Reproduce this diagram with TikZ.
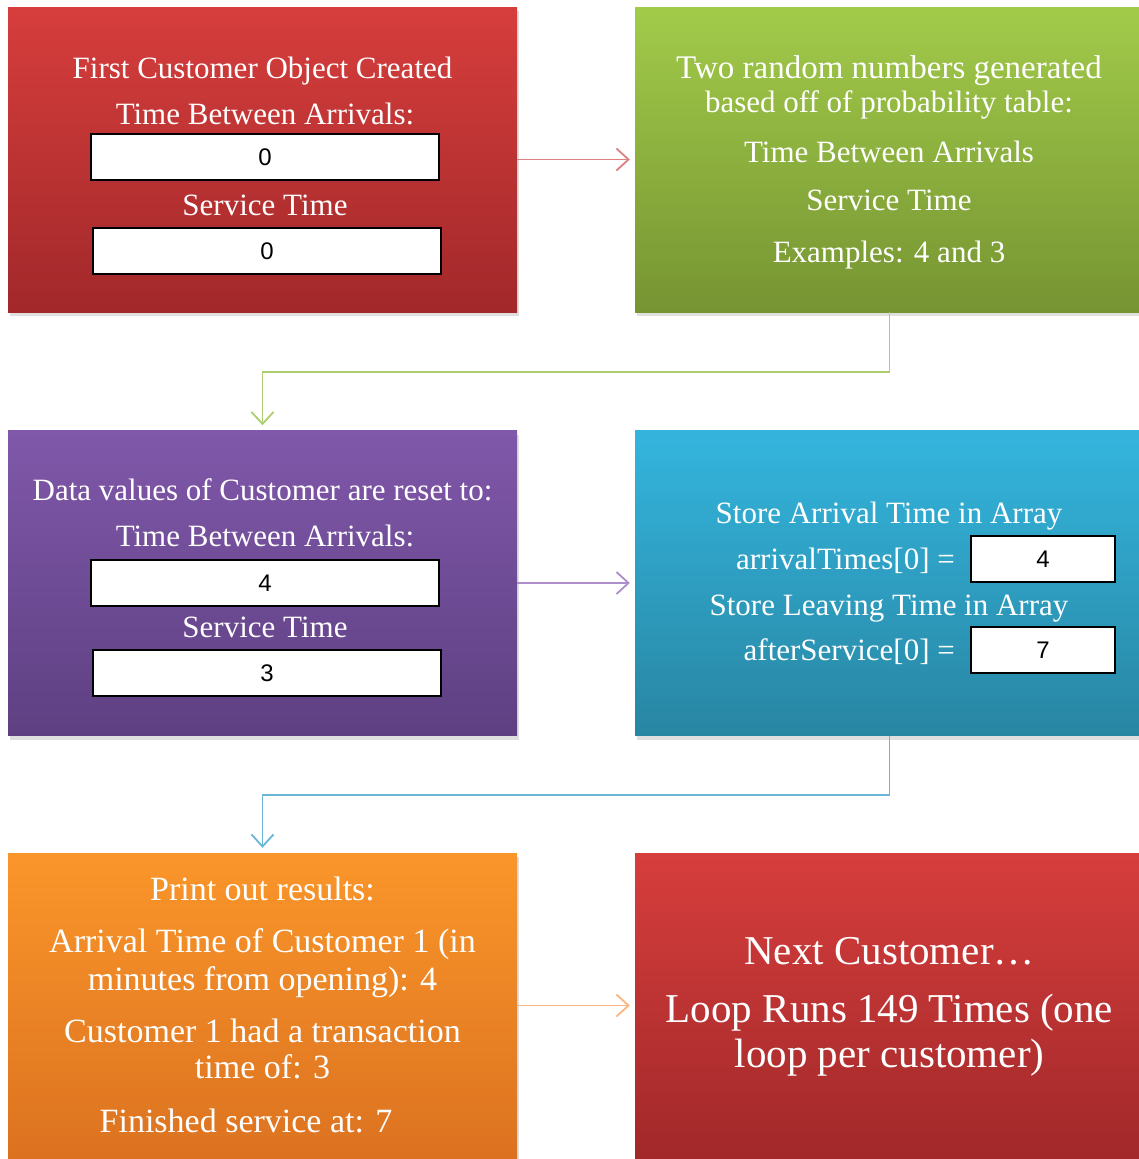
\documentclass[tikz,border=0pt]{standalone}
\usepackage{fontspec}
\setmainfont{Liberation Serif}
\newfontfamily\digitfont{Liberation Sans}
\usetikzlibrary{arrows.meta, positioning, shadows}

\definecolor{redtop}{RGB}{214,62,60}
\definecolor{redbot}{RGB}{162,40,42}
\definecolor{greentop}{RGB}{162,203,74}
\definecolor{greenbot}{RGB}{118,148,50}
\definecolor{purpletop}{RGB}{128,88,170}
\definecolor{purplebot}{RGB}{94,64,130}
\definecolor{bluetop}{RGB}{52,181,222}
\definecolor{bluebot}{RGB}{40,134,162}
\definecolor{orangetop}{RGB}{250,150,42}
\definecolor{orangebot}{RGB}{220,114,32}
\definecolor{redline}{RGB}{222,128,128}
\definecolor{greenline}{RGB}{172,205,112}
\definecolor{purpleline}{RGB}{172,142,202}
\definecolor{blueline}{RGB}{105,182,214}
\definecolor{orangeline}{RGB}{250,182,130}

\tikzset{
  stepbox/.style={
    rectangle,
    minimum width=509pt,
    minimum height=305pt,
    inner sep=0pt,
    drop shadow={opacity=0.25, shadow xshift=2pt, shadow yshift=-4pt}
  },
  valbox/.style={
    draw=black,
    line width=1.5pt,
    fill=white,
    rectangle,
    minimum width=348pt,
    minimum height=46pt,
    inner sep=0pt,
    font=\digitfont\fontsize{24}{26}\selectfont
  },
  txt/.style={
    text=white,
    anchor=base,
    inner sep=0pt,
    font=\fontsize{31}{36}\selectfont
  },
  arrow/.style={
    -{Straight Barb[length=12pt, width=22pt]},
    line width=1.8pt,
    shorten >=5pt
  }
}

\begin{document}
\begin{tikzpicture}[x=1pt, y=-1pt]
\useasboundingbox (0,0) rectangle (1139,1159);
\clip (0,0) rectangle (1139,1159);

% --- Boites ---
\node[stepbox, top color=redtop, bottom color=redbot] (first) at (262.5,159.5) {};
\node[stepbox, top color=greentop, bottom color=greenbot] (random) at (889.5,159.5) {};
\node[stepbox, top color=purpletop, bottom color=purplebot] (reset) at (262.5,583) {};
\node[stepbox, top color=bluetop, bottom color=bluebot] (store) at (889.5,583) {};
\node[stepbox, top color=orangetop, bottom color=orangebot] (print) at (262.5,1005.5) {};
\node[stepbox, top color=redtop, bottom color=redbot] (next) at (889.5,1005.5) {};

% --- Premier client ---
\node[txt] (firstA) at (262.5,78) {First Customer Object Created};
\node[txt] (firstB) at (265,124) {Time Between Arrivals:};
\node[valbox] (firstV1) at (265,157) {0};
\node[txt] (firstC) at (265,215) {Service Time};
\node[valbox] (firstV2) at (267,251) {0};

% --- Nombres aleatoires ---
\node[txt, font=\fontsize{33}{36}\selectfont] (randA) at (889,78) {Two random numbers generated};
\node[txt] (randB) at (889,112) {based off of probability table:};
\node[txt] (randC) at (889,162) {Time Between Arrivals};
\node[txt] (randD) at (889,210) {Service Time};
\node[txt] (randE) at (889,262) {Examples: 4 and 3};

% --- Remise a zero ---
\node[txt] (resetA) at (262.5,500) {Data values of Customer are reset to:};
\node[txt] (resetB) at (265,546) {Time Between Arrivals:};
\node[valbox] (resetV1) at (265,583) {4};
\node[txt] (resetC) at (265,637) {Service Time};
\node[valbox] (resetV2) at (267,673) {3};

% --- Tableaux ---
\node[txt] (storeA) at (889,523) {Store Arrival Time in Array};
\node[valbox, minimum width=144pt] (arrV) at (1043,559) {4};
\node[txt, anchor=base east] (arrT) at (955,569) {arrivalTimes[0] =};
\node[txt] (storeB) at (889,615) {Store Leaving Time in Array};
\node[valbox, minimum width=144pt] (aftV) at (1043,650) {7};
\node[txt, anchor=base east] (aftT) at (955,660) {afterService[0] =};

% --- Resultats ---
\node[txt, font=\fontsize{34}{38}\selectfont] (printA) at (262.5,900) {Print out results:};
\node[txt, font=\fontsize{34}{38}\selectfont] (printB) at (262.5,952) {Arrival Time of Customer 1 (in};
\node[txt, font=\fontsize{34}{38}\selectfont] (printC) at (262.5,990) {minutes from opening): 4};
\node[txt, font=\fontsize{34}{38}\selectfont] (printD) at (262.5,1042) {Customer 1 had a transaction};
\node[txt, font=\fontsize{34}{38}\selectfont] (printE) at (262.5,1078) {time of: 3};
\node[txt, font=\fontsize{34}{38}\selectfont] (printF) at (246,1132) {Finished service at: 7};

% --- Client suivant ---
\node[txt, font=\fontsize{41}{45}\selectfont] (nextA) at (889.5,964) {Next Customer\ldots};
\node[txt, font=\fontsize{41}{45}\selectfont] (nextB) at (889.5,1022) {Loop Runs 149 Times (one};
\node[txt, font=\fontsize{41}{45}\selectfont] (nextC) at (889.5,1067) {loop per customer)};

% --- Fleches ---
\draw[arrow, redline] (first.east) -- (random.west);
\draw[arrow, greenline] (random.south) -- ++(0,60) -| (reset.north);
\draw[arrow, purpleline] (reset.east) -- (store.west);
\draw[arrow, blueline] (store.south) -- ++(0,59) -| (print.north);
\draw[arrow, orangeline] (print.east) -- (next.west);

\end{tikzpicture}
\end{document}
